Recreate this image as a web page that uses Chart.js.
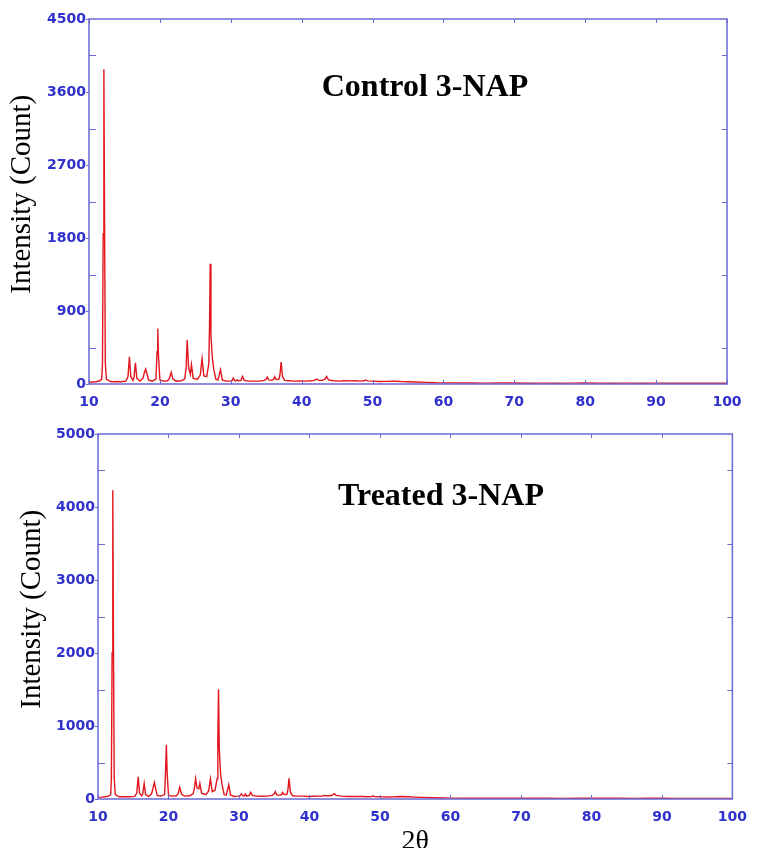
<!DOCTYPE html>
<html>
<head>
<meta charset="utf-8">
<script src="https://cdn.jsdelivr.net/npm/chart.js@4.4.0/dist/chart.umd.min.js"></script>
<style>
  html, body { margin: 0; padding: 0; background: #fff; overflow: hidden; }
  #wrap { position: relative; width: 757px; height: 848px; }
  canvas { position: absolute; left: 0; }
  #topChart { top: 0; }
  #bottomChart { top: 420px; }
  .plot-title {
    position: absolute;
    font-family: 'Liberation Serif', 'Times New Roman', serif;
    font-weight: bold;
    font-size: 32px;
    color: #000;
    white-space: nowrap;
    transform: translate(-50%, -50%);
  }
</style>
</head>
<body>
<div id="wrap">
  <canvas id="topChart" width="757" height="420"></canvas>
  <canvas id="bottomChart" width="757" height="428"></canvas>
  <div class="plot-title" style="left:425px; top:85px;">Control 3-NAP</div>
  <div class="plot-title" style="left:441px; top:494px;">Treated 3-NAP</div>
</div>
<script>
// 2θ positions shared by both patterns
const angles = [
  10.0, 10.5, 11.0, 11.5, 11.8, 11.9, 12.0, 12.1, 12.2, 12.3, 12.45,
  13.0, 13.5, 14.0, 14.5, 15.2, 15.5, 15.7, 15.9, 16.2, 16.35, 16.55, 16.75,
  17.2, 17.6, 17.85, 18.0, 18.2, 18.4, 18.9, 19.45, 19.6, 19.7, 19.8, 20.0,
  20.5, 21.1, 21.35, 21.6, 21.85, 22.3, 23.0, 23.5, 23.7, 23.85, 24.05,
  24.3, 24.45, 24.7, 25.3, 25.7, 25.95, 26.2, 26.6, 26.9, 27.0, 27.1, 27.2,
  27.4, 27.6, 27.9, 28.2, 28.55, 28.8, 29.3, 29.8, 30.15, 30.35, 30.55,
  30.75, 30.9, 31.1, 31.45, 31.65, 31.9, 32.5, 33.2, 34.0, 34.7, 35.0, 35.15, 35.35,
  35.8, 36.05, 36.2, 36.4, 36.8, 36.95, 37.1, 37.3, 37.6, 38.3, 39.0, 39.8,
  40.5, 41.3, 41.8, 42.1, 42.4, 42.9, 43.3, 43.5, 43.8, 44.5, 45.3, 46.0,
  46.8, 47.5, 48.2, 48.8, 49.0, 49.3, 50.0, 51.0, 52.0, 53.0, 54.0, 55.0,
  56.0, 57.5, 59.0, 60.0, 62.0, 64.0, 66.0, 68.0, 70.0, 72.0, 74.0, 76.0,
  78.0, 80.0, 82.0, 84.0, 86.0, 88.0, 90.0, 92.0, 94.0, 96.0, 98.0, 100.0
];

const controlCounts = [
  20, 25, 28, 40, 60, 250, 1850, 3880, 1900, 260, 60,
  30, 28, 30, 28, 35, 90, 335, 90, 45, 80, 260, 70,
  35, 70, 150, 185, 120, 50, 35, 60, 400, 685, 350, 50,
  35, 40, 70, 143, 60, 35, 40, 60, 200, 542, 200,
  120, 238, 70, 60, 110, 312, 100, 90, 250, 700, 1483, 600,
  320, 180, 60, 50, 176, 50, 35, 35, 40, 74, 40,
  40, 50, 40, 45, 94, 45, 35, 35, 35, 45, 60, 86, 50,
  45, 55, 90, 55, 60, 120, 271, 90, 45, 40, 35, 38,
  35, 40, 45, 62, 45, 45, 60, 94, 50, 40, 35, 40,
  38, 40, 35, 40, 50, 38, 35, 30, 32, 35, 30, 28,
  25, 20, 15, 14, 12, 12, 11, 12, 12, 10, 11, 10,
  11, 12, 11, 10, 11, 10, 11, 10, 10, 9, 9, 9
];

const treatedCounts = [
  22, 25, 30, 40, 60, 280, 2000, 4230, 2000, 280, 60,
  30, 30, 32, 30, 35, 80, 305, 80, 45, 70, 210, 60,
  35, 70, 170, 228, 130, 50, 40, 60, 420, 743, 380, 50,
  40, 45, 70, 160, 65, 40, 45, 70, 160, 278, 150,
  140, 215, 80, 60, 110, 278, 100, 120, 280, 800, 1503, 700,
  325, 200, 60, 55, 196, 55, 35, 40, 45, 70, 45,
  40, 70, 40, 50, 92, 50, 40, 38, 40, 50, 70, 100, 60,
  50, 60, 90, 60, 65, 130, 283, 90, 45, 40, 40, 35,
  38, 40, 40, 50, 45, 45, 55, 73, 50, 40, 35, 35,
  35, 35, 30, 35, 40, 33, 30, 28, 30, 35, 30, 25,
  22, 18, 14, 12, 11, 11, 10, 10, 11, 10, 10, 9,
  10, 11, 10, 10, 9, 10, 10, 9, 9, 9, 9, 9
];

const xTicks = [10, 20, 30, 40, 50, 60, 70, 80, 90, 100];
const controlYTicks = [0, 900, 1800, 2700, 3600, 4500];
const treatedYTicks = [0, 1000, 2000, 3000, 4000, 5000];

const axisBlue = '#6868d4';
const labelBlue = '#3030cc';
const traceRed = '#e2161c';

// box around the plot with small tick marks, like the instrument software draws
const framePlugin = {
  id: 'frame',
  afterDraw(chart) {
    const { ctx, chartArea: a, scales: { x, y } } = chart;
    ctx.save();
    ctx.strokeStyle = axisBlue;
    ctx.lineWidth = 1.5;
    ctx.strokeRect(a.left, a.top, a.right - a.left, a.bottom - a.top);
    ctx.lineWidth = 1;
    ctx.beginPath();
    xTicks.forEach(v => {
      const px = Math.round(x.getPixelForValue(v)) + 0.5;
      ctx.moveTo(px, a.bottom); ctx.lineTo(px, a.bottom - 4);
      ctx.moveTo(px, a.top); ctx.lineTo(px, a.top + 4);
    });
    const yv = y.ticks.map(t => t.value);
    for (let i = 0; i < yv.length - 1; i++) {
      const py = Math.round(y.getPixelForValue((yv[i] + yv[i + 1]) / 2)) + 0.5;
      ctx.moveTo(a.left, py); ctx.lineTo(a.left + 7, py);
      ctx.moveTo(a.right, py); ctx.lineTo(a.right - 5, py);
    }
    yv.forEach(v => {
      const py = Math.round(y.getPixelForValue(v)) + 0.5;
      ctx.moveTo(a.left, py); ctx.lineTo(a.left - 3, py);
    });
    ctx.stroke();
    ctx.restore();
  }
};

function makeChart(id, counts, yTicks, box, titlePad, xTitle) {
  const ctx = document.getElementById(id).getContext('2d');
  return new Chart(ctx, {
    type: 'line',
    data: {
      datasets: [{
        data: angles.map((a, i) => ({ x: a, y: counts[i] })),
        borderColor: traceRed,
        borderWidth: 1.4,
        pointRadius: 0,
        tension: 0,
        fill: false
      }]
    },
    options: {
      responsive: false,
      animation: false,
      devicePixelRatio: 1,
      layout: { padding: { top: box.top, right: box.right, left: 0, bottom: 0 } },
      plugins: { legend: { display: false }, tooltip: { enabled: false } },
      scales: {
        x: {
          type: 'linear',
          min: 10,
          max: 100,
          afterBuildTicks: s => { s.ticks = xTicks.map(v => ({ value: v })); },
          afterFit: s => { s.height = box.xHeight; },
          grid: { display: false, drawTicks: false },
          border: { display: false },
          ticks: {
            autoSkip: false,
            maxRotation: 0,
            padding: 10,
            color: labelBlue,
            font: { family: 'DejaVu Sans', size: 14, weight: 'bold' },
            callback: v => String(v)
          },
          title: {
            display: !!xTitle,
            text: xTitle || '',
            color: '#000',
            padding: 0,
            font: { family: 'Liberation Serif', size: 28, lineHeight: 0.47 }
          }
        },
        y: {
          min: 0,
          max: yTicks[yTicks.length - 1],
          afterBuildTicks: s => { s.ticks = yTicks.map(v => ({ value: v })); },
          afterFit: s => { s.width = box.yWidth; },
          grid: { display: false, drawTicks: false },
          border: { display: false },
          ticks: {
            padding: 3,
            color: labelBlue,
            font: { family: 'DejaVu Sans', size: 14, weight: 'bold' },
            callback: v => String(v)
          },
          title: {
            display: true,
            // two leading spaces nudge the centred label up a little, as in the original
            text: '  Intensity (Count)',
            color: '#000',
            padding: { top: titlePad, bottom: 0 },
            font: { family: 'Liberation Serif', size: 29, lineHeight: 1.2 }
          }
        }
      }
    },
    plugins: [framePlugin]
  });
}

makeChart('topChart', controlCounts, controlYTicks,
  { top: 19, right: 30, yWidth: 89, xHeight: 36 }, 5, null);
makeChart('bottomChart', treatedCounts, treatedYTicks,
  { top: 14, right: 23, yWidth: 98, xHeight: 49 }, 15, '2θ');
</script>
</body>
</html>
